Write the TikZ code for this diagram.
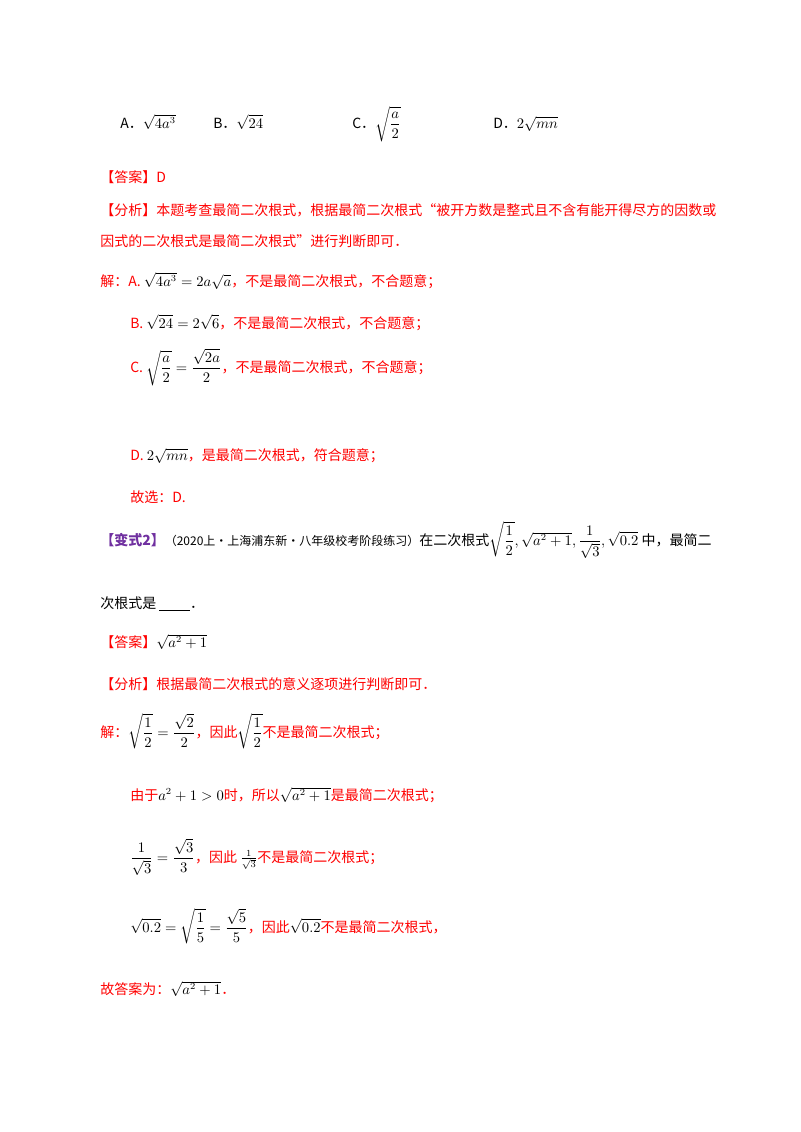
\documentclass[tikz,border=0pt]{standalone}
\usepackage{fontspec}
\setmainfont{Noto Sans CJK SC}
\usepackage{amsmath}
\definecolor{rd}{HTML}{FF0000}
\definecolor{pu}{HTML}{7030A0}
\newcommand{\mm}[1]{{\color{black}$#1$}}
\begin{document}
\begin{tikzpicture}[x=0.75pt,y=-0.75pt,
  t/.style={anchor=base west,inner sep=0pt,font=\fontsize{10.5}{12}\selectfont},
  r/.style={t,text=rd}]
\useasboundingbox (0,0) rectangle (800,1132);
\fill[white] (0,0) rectangle (800,1132);
\node[t] (a) at (120,128) {A．$\sqrt{4a^3}$};
\node[t] (b) at (213,128) {B．$\sqrt{24}$};
\node[t] (c) at (352,128) {C．$\sqrt{\dfrac{a}{2}}$};
\node[t] (d) at (493,128) {D．$2\sqrt{mn}$};
\node[r] (ans1) at (100,182) {【答案】D};
\node[r] (an1) at (100,215) {【分析】本题考查最简二次根式，根据最简二次根式“被开方数是整式且不含有能开得尽方的因数或};
\node[r] (an1b) at (100,246) {因式的二次根式是最简二次根式”进行判断即可．};
\node[r] (s1) at (100,286) {解：A. \mm{\sqrt{4a^3}=2a\sqrt{a}}，不是最简二次根式，不合题意；};
\node[r] (s2) at (130,328) {B. \mm{\sqrt{24}=2\sqrt{6}}，不是最简二次根式，不合题意；};
\node[r] (s3) at (130,372) {C. \mm{\sqrt{\dfrac{a}{2}}=\dfrac{\sqrt{2a}}{2}}，不是最简二次根式，不合题意；};
\node[r] (s4) at (130,460) {D. \mm{2\sqrt{mn}}，是最简二次根式，符合题意；};
\node[r] (s5) at (130,502) {故选：D.};
\node[t] (v) at (100,545) {\textcolor{pu}{\bfseries【变式2】}{\fontsize{9}{11}\selectfont（2020上·上海浦东新·八年级校考阶段练习）}在二次根式$\sqrt{\dfrac{1}{2}},\sqrt{a^2+1},\dfrac{1}{\sqrt{3}},\sqrt{0.2}$ 中，最简二};
\node[t] (v2) at (100,608) {次根式是 \underline{\hspace{2.2em}}．};
\node[t] (ans2) at (100,647) {\textcolor{rd}{【答案】}$\sqrt{a^2+1}$};
\node[r] (an2) at (100,689) {【分析】根据最简二次根式的意义逐项进行判断即可．};
\node[r] (p1) at (100,737) {解：\mm{\sqrt{\dfrac{1}{2}}=\dfrac{\sqrt{2}}{2}}，因此\mm{\sqrt{\dfrac{1}{2}}}不是最简二次根式；};
\node[r] (p2) at (130,800) {由于\mm{a^2+1>0}时，所以\mm{\sqrt{a^2+1}}是最简二次根式；};
\node[r] (p3) at (130,862) {\mm{\dfrac{1}{\sqrt{3}}=\dfrac{\sqrt{3}}{3}}，因此 \mm{\frac{1}{\sqrt{3}}}不是最简二次根式；};
\node[r] (p4) at (130,932) {\mm{\sqrt{0.2}=\sqrt{\dfrac{1}{5}}=\dfrac{\sqrt{5}}{5}}，因此\mm{\sqrt{0.2}}不是最简二次根式，};
\node[r] (p5) at (100,994) {故答案为：\mm{\sqrt{a^2+1}}．};
\end{tikzpicture}
\end{document}
